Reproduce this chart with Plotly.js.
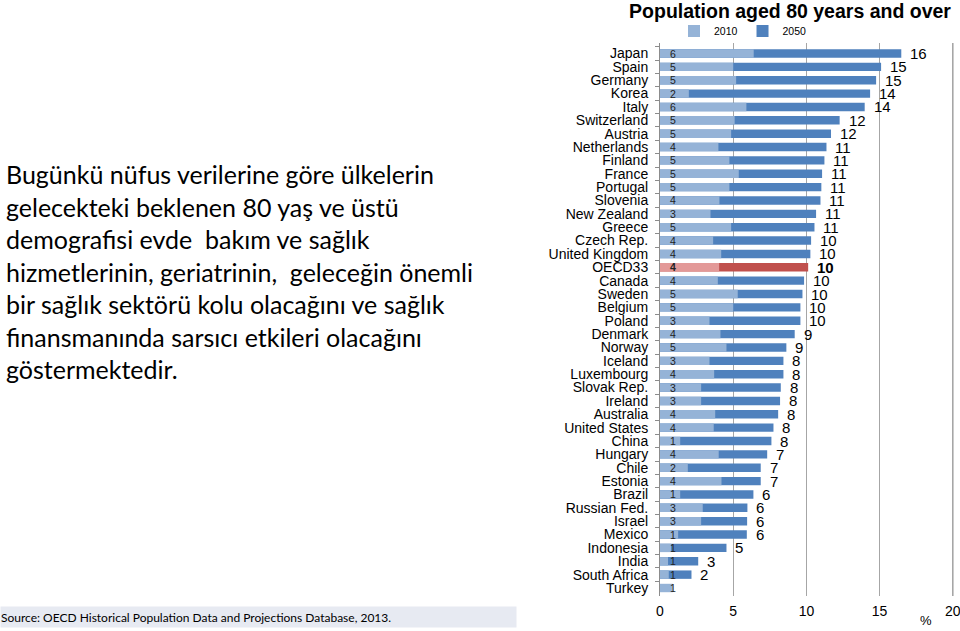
<!DOCTYPE html>
<html>
<head>
<meta charset="utf-8">
<script src="https://cdn.plot.ly/plotly-3.0.1.min.js"></script>
<style>html,body{margin:0;padding:0;background:#fff;}#chart{width:960px;height:631px;}</style>
</head>
<body>
<div id="chart"></div>
<script>
const countries = ["Japan","Spain","Germany","Korea","Italy","Switzerland","Austria","Netherlands","Finland","France","Portugal","Slovenia","New Zealand","Greece","Czech Rep.","United Kingdom","OECD33","Canada","Sweden","Belgium","Poland","Denmark","Norway","Iceland","Luxembourg","Slovak Rep.","Ireland","Australia","United States","China","Hungary","Chile","Estonia","Brazil","Russian Fed.","Israel","Mexico","Indonesia","India","South Africa","Turkey"];
const values2010 = [6.4,5.0,5.2,1.97,5.9,5.1,4.86,3.99,4.74,5.38,4.74,4.06,3.45,4.86,3.63,4.18,4.04,3.95,5.31,5.0,3.38,4.13,4.54,3.38,3.7,2.81,2.81,3.77,3.67,1.38,4.01,1.9,4.2,1.38,2.92,2.81,1.24,0.75,0.55,0.6,0.87];
const values2050 = [16.48,15.1,14.76,14.35,13.98,12.27,11.68,11.37,11.23,11.07,11.02,10.96,10.66,10.55,10.32,10.27,10.12,9.84,9.73,9.59,9.59,9.2,8.63,8.43,8.43,8.25,8.2,8.07,7.75,7.61,7.32,6.88,6.88,6.38,5.97,5.95,5.93,4.54,2.61,2.15,null];
const highlight = "OECD33";

const paragraph = "Bugünkü nüfus verilerine göre ülkelerin<br>gelecekteki beklenen 80 yaş ve üstü<br>demografisi evde  bakım ve sağlık<br>hizmetlerinin, geriatrinin,  geleceğin önemli<br>bir sağlık sektörü kolu olacağını ve sağlık<br>finansmanında sarsıcı etkileri olacağını<br>göstermektedir.";
const sourceText = "Source: OECD Historical Population Data and Projections Database, 2013.";

const dark = countries.map(c => c === highlight ? "#c0504d" : "#4f81bd");
const light = countries.map(c => c === highlight ? "#e39998" : "#95b3d7");

const traces = [
  {type:"bar", orientation:"h", name:"2050", y:countries, x:values2050,
   marker:{color:dark}, width:0.63, hoverinfo:"x+y"},
  {type:"bar", orientation:"h", name:"2010", y:countries, x:values2010,
   marker:{color:light}, width:0.63, hoverinfo:"x+y"}
];

const W = 960, H = 631, ml = 660, mr = 6, mt = 43, mb = 35;
const pw = W - ml - mr, ph = H - mt - mb;
const px = p => (p - ml) / pw;
const py = p => 1 - (p - mt) / ph;

const annotations = [];
countries.forEach((c, i) => {
  annotations.push({x:0, y:c, xref:"x", yref:"y", text: c === highlight ? "<b>"+Math.round(values2010[i])+"</b>" : String(Math.round(values2010[i])),
    showarrow:false, xanchor:"center", xshift:13, font:{family:"Liberation Sans, Arial", size:10.5, color:"#222"}});
  if (values2050[i] !== null) {
    const t = String(Math.round(values2050[i]));
    annotations.push({x:values2050[i], y:c, xref:"x", yref:"y", text: c === highlight ? "<b>"+t+"</b>" : t,
      showarrow:false, xanchor:"left", xshift:7, font:{family:"Liberation Sans, Arial", size:15, color:"#000"}});
  }
});
annotations.push({xref:"paper", yref:"paper", x:px(4), y:py(272), xanchor:"left", yanchor:"middle", align:"left",
  showarrow:false, text:paragraph, font:{family:"Lato", size:25, color:"#000"}});
annotations.push({xref:"paper", yref:"paper", x:px(0), y:py(617), xanchor:"left", yanchor:"middle", align:"left",
  showarrow:false, text:sourceText, width:515, height:20, bgcolor:"#e7eaf2", borderpad:0,
  font:{family:"Lato", size:12, color:"#000"}});
annotations.push({xref:"paper", yref:"paper", x:px(926), y:py(620), xanchor:"center", yanchor:"middle",
  showarrow:false, text:"%", font:{family:"Liberation Sans, Arial", size:13, color:"#000"}});

const layout = {
  width:W, height:H,
  margin:{l:ml, r:mr, t:mt, b:mb, pad:0},
  paper_bgcolor:"#fff", plot_bgcolor:"#fff",
  barmode:"overlay",
  title:{text:"<b>Population aged 80 years and over</b>", xref:"paper", x:px(790), xanchor:"center",
    yref:"container", y:1 - 11/H, yanchor:"middle",
    font:{family:"Liberation Sans, Arial", size:19.5, color:"#000"}},
  showlegend:true,
  legend:{orientation:"h", traceorder:"reversed", x:px(674), xanchor:"left", y:py(31), yanchor:"middle",
    font:{family:"Liberation Sans, Arial", size:10.5, color:"#000"}, itemwidth:30, bgcolor:"rgba(0,0,0,0)"},
  xaxis:{range:[0,20.08], tickvals:[0,5,10,15,20], showgrid:true, gridcolor:"#a6a6a6", gridwidth:1,
    zeroline:false, showline:false, ticks:"", fixedrange:true, ticklabeloverflow:"allow", ticklabelstandoff:5,
    tickfont:{family:"Liberation Sans, Arial", size:14, color:"#000"}},
  yaxis:{type:"category", categoryarray:countries, autorange:"reversed", showline:true, linecolor:"#8c8c8c",
    linewidth:1, ticks:"outside", tickson:"boundaries", ticklen:4, tickcolor:"#8c8c8c", showgrid:false,
    tickmode:"linear", tick0:0, dtick:1,
    ticklabelstandoff:8, tickfont:{family:"Liberation Sans, Arial", size:14, color:"#000"}},
  shapes:[{type:"line", xref:"x", yref:"paper", x0:20, x1:20, y0:0, y1:1, line:{color:"#a6a6a6", width:1.5}, layer:"below"}],
  annotations:annotations
};

Plotly.newPlot("chart", traces, layout, {displayModeBar:false, staticPlot:true});
</script>
</body>
</html>
